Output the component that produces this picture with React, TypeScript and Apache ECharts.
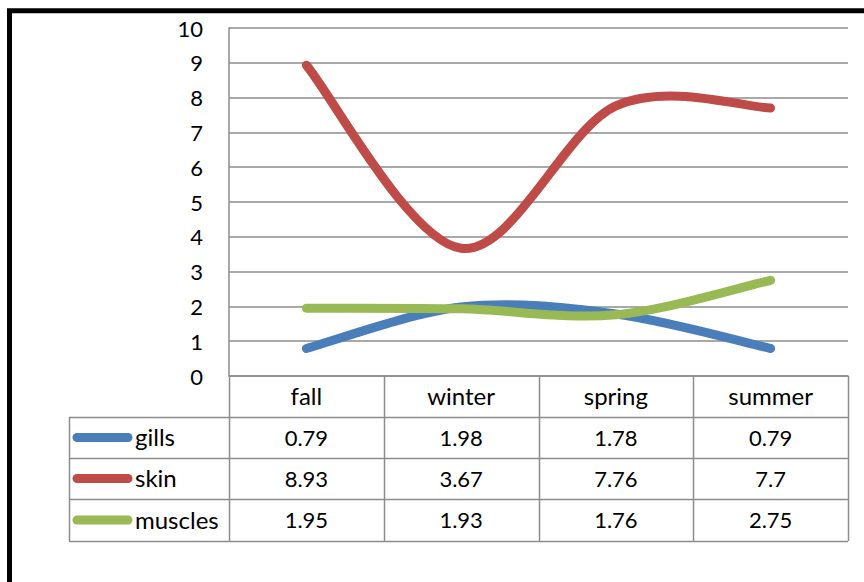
import React, { useEffect, useRef } from "react";
import * as echarts from "echarts";

const categories = ["fall", "winter", "spring", "summer"];
const seriesNames = ["gills", "skin", "muscles"];
const gills = [0.79, 1.98, 1.78, 0.79];
const skin = [8.93, 3.67, 7.76, 7.7];
const muscles = [1.95, 1.93, 1.76, 2.75];
const yMin = 0;
const yMax = 10;
const yInterval = 1;

const colors = ["#4a7ebb", "#be4b48", "#98b954"];
const FONT = "Lato, Carlito, Calibri, 'Noto Sans', sans-serif";

// Excel-like smoothed line (Catmull-Rom to cubic Bezier) through pixel points
function smoothPath(pts: number[][]): string {
  let d = `M${pts[0][0]},${pts[0][1]}`;
  for (let i = 0; i < pts.length - 1; i++) {
    const p0 = pts[Math.max(0, i - 1)];
    const p1 = pts[i];
    const p2 = pts[i + 1];
    const p3 = pts[Math.min(pts.length - 1, i + 2)];
    const c1x = p1[0] + (p2[0] - p0[0]) / 6;
    const c1y = p1[1] + (p2[1] - p0[1]) / 6;
    const c2x = p2[0] - (p3[0] - p1[0]) / 6;
    const c2y = p2[1] - (p3[1] - p1[1]) / 6;
    d += ` C${c1x},${c1y} ${c2x},${c2y} ${p2[0]},${p2[1]}`;
  }
  return d;
}

export default function App() {
  const ref = useRef<HTMLDivElement>(null);
  useEffect(() => {
    if (!ref.current) return;
    const W = 864;
    const H = 582;
    const gridLeft = 229;
    const gridRight = 848;
    const gridTop = 28;
    const gridBottom = 376;
    const chart = echarts.init(ref.current, null, { renderer: "svg", width: W, height: H });
    const allSeries = [gills, skin, muscles];

    const colW = (gridRight - gridLeft) / categories.length;
    const legendLeft = 69;
    const rowLines = [417, 458, 499, 541];
    const tableBottom = rowLines[rowLines.length - 1];
    const lineColor = "#8c8c8c";
    const graphic: any[] = [];
    rowLines.forEach((y) => {
      graphic.push({
        type: "line",
        shape: { x1: legendLeft, y1: y + 0.5, x2: gridRight, y2: y + 0.5 },
        style: { stroke: lineColor, lineWidth: 1.5 },
        silent: true,
      });
    });
    for (let i = 0; i <= categories.length; i++) {
      const x = Math.round(gridLeft + i * colW) + 0.5;
      graphic.push({
        type: "line",
        shape: { x1: x, y1: gridBottom, x2: x, y2: tableBottom },
        style: { stroke: lineColor, lineWidth: 1.5 },
        silent: true,
      });
    }
    graphic.push({
      type: "line",
      shape: { x1: legendLeft + 0.5, y1: rowLines[0], x2: legendLeft + 0.5, y2: tableBottom },
      style: { stroke: lineColor, lineWidth: 1.5 },
      silent: true,
    });
    categories.forEach((c, i) => {
      graphic.push({
        type: "text",
        x: gridLeft + (i + 0.5) * colW,
        y: (gridBottom + rowLines[0]) / 2 - 1.5,
        style: { text: c, fontSize: 24, fontFamily: FONT, fill: "#000", align: "center", verticalAlign: "middle" },
        silent: true,
      });
    });
    seriesNames.forEach((name, r) => {
      const cy = (rowLines[r] + rowLines[r + 1]) / 2;
      graphic.push({
        type: "line",
        shape: { x1: 77, y1: cy, x2: 128, y2: cy },
        style: { stroke: colors[r], lineWidth: 9, lineCap: "round" },
        silent: true,
      });
      graphic.push({
        type: "text",
        x: 135,
        y: cy - 1,
        style: { text: name, fontSize: 24, fontFamily: FONT, fill: "#000", align: "left", verticalAlign: "middle" },
        silent: true,
      });
      allSeries[r].forEach((v, i) => {
        graphic.push({
          type: "text",
          x: gridLeft + (i + 0.5) * colW,
          y: cy - 0.5,
          style: { text: String(v), fontSize: 22, fontFamily: FONT, fill: "#000", align: "center", verticalAlign: "middle" },
          silent: true,
        });
      });
    });
    graphic.push({
      type: "rect",
      shape: { x: 9.5, y: 10.8, width: 1000, height: 1000 },
      style: { fill: "none", stroke: "#000", lineWidth: 5 },
      silent: true,
    });

    chart.setOption({
      animation: false,
      backgroundColor: "#fff",
      grid: { left: gridLeft, right: W - gridRight, top: gridTop, bottom: H - gridBottom, containLabel: false },
      xAxis: {
        type: "category",
        data: categories,
        boundaryGap: true,
        axisLine: { show: true, lineStyle: { color: lineColor, width: 1.5 } },
        axisTick: { show: false },
        axisLabel: { show: false },
        splitLine: { show: false },
      },
      yAxis: {
        type: "value",
        min: yMin,
        max: yMax,
        interval: yInterval,
        axisLine: { show: true, lineStyle: { color: lineColor, width: 1.5 } },
        axisTick: { show: false },
        axisLabel: { color: "#000", fontSize: 22, fontFamily: FONT, margin: 26 },
        splitLine: { show: true, lineStyle: { color: lineColor, width: 1.5 } },
      },
      series: seriesNames.map((name, si) => ({
        name,
        type: "custom",
        data: allSeries[si].map((v, i) => [i, v]),
        encode: { x: 0, y: 1 },
        clip: false,
        z: 3 + si,
        renderItem: (params: any, api: any) => {
          if (params.dataIndex !== 0) return null;
          const pts = allSeries[si].map((v, i) => api.coord([i, v]));
          return {
            type: "path",
            shape: { pathData: smoothPath(pts) },
            style: {
              fill: "none",
              stroke: colors[si],
              lineWidth: 9,
              lineCap: "round",
              lineJoin: "round",
            },
          };
        },
      })),
      graphic,
    });
    return () => chart.dispose();
  }, []);
  return <div ref={ref} style={{ position: "fixed", left: 0, top: 0, width: 864, height: 582, background: "#fff" }} />;
}
